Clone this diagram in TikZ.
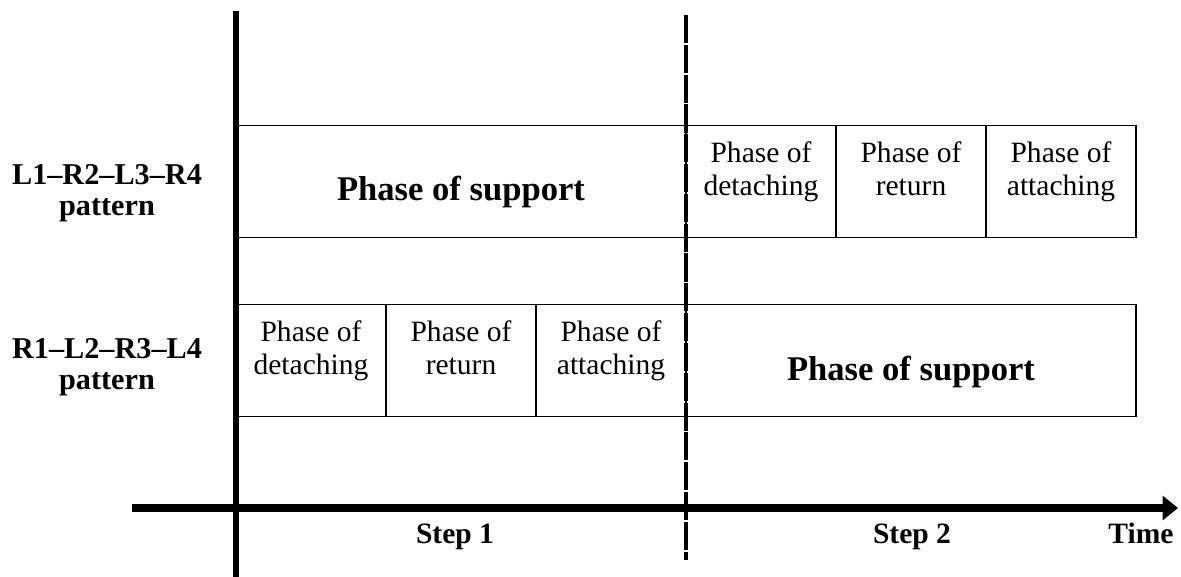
\documentclass[tikz,border=0pt]{standalone}
\usepackage{fontspec}
\setmainfont{Liberation Serif}
\usetikzlibrary{arrows.meta}

\begin{document}
\begin{tikzpicture}[x=0.025cm, y=-0.025cm, >={Triangle[length=11pt,width=17pt]}]
    \tikzstyle{cell}=[draw, line width=1.1pt, minimum width=3.75cm, minimum height=2.8cm, inner sep=0pt]
    \tikzstyle{wide}=[cell, minimum width=11.25cm]
    \tikzstyle{phase}=[align=center, anchor=north, inner sep=0pt, font=\fontsize{21}{24}\selectfont]
    \tikzstyle{support}=[font=\fontsize{24.6}{28}\selectfont\bfseries]
    \tikzstyle{pattern}=[align=center, font=\fontsize{21.5}{22}\selectfont\bfseries]
    \tikzstyle{steplabel}=[anchor=base, font=\fontsize{21}{24}\selectfont\bfseries]
    \useasboundingbox (0,0) rectangle (1181,577);

    % draw boxes
    \node [wide] (upper-support) at (461,181.5) {};
    \foreach \m [count=\x] in {detach,return,attach}
    \node [cell] (upper-\m) at (611+\x*150,181.5) {};

    \foreach \m [count=\x] in {detach,return,attach}
    \node [cell] (lower-\m) at (161+\x*150,360.5) {};
    \node [wide] (lower-support) at (911,360.5) {};

    % draw text
    \node [support] (upper-support-text) at (461,192) {Phase of support};
    \foreach \m/\l [count=\x] in {detach/detaching,return/return,attach/attaching}
    \node [phase] (upper-\m-text) at (611+\x*150,141) {Phase of\\\l};

    \foreach \m/\l [count=\x] in {detach/detaching,return/return,attach/attaching}
    \node [phase] (lower-\m-text) at (161+\x*150,320) {Phase of\\\l};
    \node [support] (lower-support-text) at (911,372) {Phase of support};

    \node [pattern] (pattern-1) at (107,193) {L1--R2--L3--R4\\pattern};
    \node [pattern] (pattern-2) at (107,367) {R1--L2--R3--L4\\pattern};

    % draw axes
    \coordinate (yaxis-top) at (236,11);
    \coordinate (yaxis-bottom) at (236,577);
    \draw [line width=3.6pt] (yaxis-top) -- (yaxis-bottom);

    \coordinate (steps-top) at (686,15);
    \coordinate (steps-bottom) at (686,560);
    \draw [line width=3.4pt, dash pattern=on 20pt off 1.2pt] (steps-top) -- (steps-bottom);

    \coordinate (time-start) at (132,508);
    \coordinate (time-end) at (1178,508);
    \draw [->, line width=5pt] (time-start) -- (time-end);

    \foreach \l/\x in {Step 1/455, Step 2/912, Time/1141}
    \node [steplabel] (label-\x) at (\x,543) {\l};
\end{tikzpicture}
\end{document}
